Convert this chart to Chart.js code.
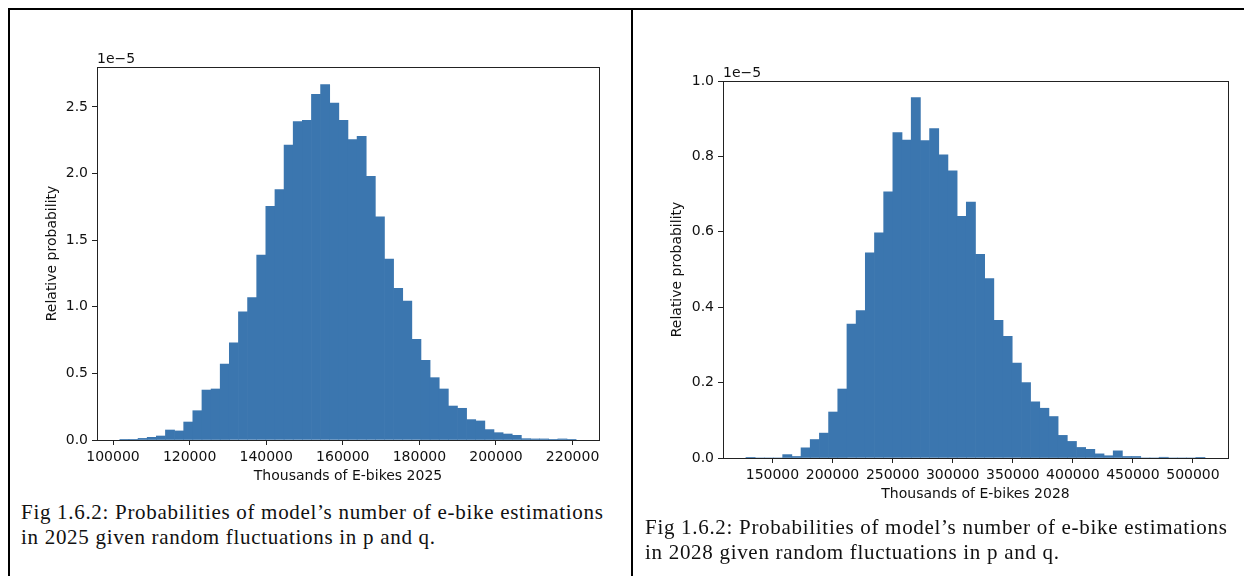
<!DOCTYPE html>
<html>
<head>
<meta charset="utf-8">
<script src="https://cdn.jsdelivr.net/npm/chart.js@4"></script>
<style>
    body { margin: 0; background: #fff; width: 1244px; height: 576px; position: relative; overflow: hidden; }
    .frame { position: absolute; background: #000; }
    canvas { position: absolute; }
    .caption {
        position: absolute;
        font-family: "Liberation Serif", "DejaVu Serif", serif;
        font-size: 21px;
        letter-spacing: 0.7px;
        line-height: 25px;
        color: #111;
        white-space: nowrap;
    }
</style>
</head>
<body>
<div class="frame" style="left:8px; top:8px; width:1236px; height:2px;"></div>
<div class="frame" style="left:8px; top:8px; width:2px; height:568px;"></div>
<div class="frame" style="left:631px; top:8px; width:2px; height:568px;"></div>

<canvas id="chart2025" style="left:0; top:0;"></canvas>
<canvas id="chart2028" style="left:632px; top:0;"></canvas>

<div class="caption" style="left:21px; top:500px;">Fig 1.6.2: Probabilities of model’s number of e-bike estimations<br>in 2025 given random fluctuations in p and q.</div>
<div class="caption" style="left:645px; top:515px;">Fig 1.6.2: Probabilities of model’s number of e-bike estimations<br>in 2028 given random fluctuations in p and q.</div>

<script>
// Histogram data (50 equal bins each), heights in units of 1e-5
const binStart2025 = 101775;
const binWidth2025 = 2383;
const density2025 = [
    0.002, 0.002, 0.012, 0.020, 0.030, 0.075, 0.068, 0.135, 0.220, 0.375,
    0.383, 0.570, 0.730, 0.963, 1.070, 1.388, 1.755, 1.880, 2.213, 2.390,
    2.400, 2.595, 2.668, 2.530, 2.400, 2.255, 2.280, 1.980, 1.675, 1.358,
    1.138, 1.043, 0.755, 0.598, 0.468, 0.383, 0.255, 0.238, 0.153, 0.143,
    0.078, 0.055, 0.045, 0.035, 0.010, 0.008, 0.008, 0.005, 0.008, 0.002
];
const xTicks2025 = [100000, 120000, 140000, 160000, 180000, 200000, 220000];
const yTicks2025 = [0.0, 0.5, 1.0, 1.5, 2.0, 2.5];

const binStart2028 = 127939;
const binWidth2028 = 7642;
const density2028 = [
    0.0003, 0.000, 0.000, 0.000, 0.009, 0.004, 0.027, 0.049, 0.066, 0.122,
    0.183, 0.355, 0.391, 0.544, 0.597, 0.706, 0.863, 0.843, 0.956, 0.842,
    0.874, 0.804, 0.762, 0.641, 0.679, 0.540, 0.476, 0.365, 0.323, 0.252,
    0.200, 0.149, 0.132, 0.110, 0.060, 0.044, 0.028, 0.023, 0.011, 0.006,
    0.019, 0.004, 0.004, 0.000, 0.000, 0.002, 0.000, 0.000, 0.000, 0.0003
];
const xTicks2028 = [150000, 200000, 250000, 300000, 350000, 400000, 450000, 500000];
const yTicks2028 = [0.0, 0.2, 0.4, 0.6, 0.8, 1.0];

const barColor = '#3b76af';
const axisColor = '#222';
const tickFont = { family: 'DejaVu Sans', size: 14 };

// draws the top/right spines and the "1e-5" offset label
const spinesPlugin = {
    id: 'spines',
    afterDraw(chart) {
        const { ctx, chartArea: a } = chart;
        ctx.save();
        ctx.strokeStyle = axisColor;
        ctx.lineWidth = 1;
        ctx.strokeRect(Math.round(a.left) + 0.5, Math.round(a.top) + 0.5,
                       Math.round(a.right - a.left), Math.round(a.bottom - a.top));
        ctx.fillStyle = '#111';
        ctx.font = '14px "DejaVu Sans"';
        ctx.textBaseline = 'bottom';
        ctx.fillText('1e\u22125', a.left, a.top - 1);
        ctx.restore();
    }
};

function makeHistogram(id, cfg) {
    const canvas = document.getElementById(id);
    canvas.width = cfg.width;
    canvas.height = cfg.height;
    canvas.style.width = cfg.width + 'px';
    canvas.style.height = cfg.height + 'px';

    const points = cfg.values.map((v, i) => ({ x: cfg.binStart + (i + 0.5) * cfg.binWidth, y: v }));

    return new Chart(canvas, {
        type: 'bar',
        data: {
            datasets: [{
                data: points,
                backgroundColor: barColor,
                borderWidth: 0,
                barPercentage: 1.0,
                categoryPercentage: 1.0
            }]
        },
        plugins: [spinesPlugin],
        options: {
            responsive: false,
            animation: false,
            layout: { padding: cfg.padding },
            plugins: { legend: { display: false }, tooltip: { enabled: false } },
            scales: {
                x: {
                    type: 'linear',
                    offset: false,
                    min: cfg.xMin,
                    max: cfg.xMax,
                    afterBuildTicks: s => { s.ticks = cfg.xTicks.map(v => ({ value: v })); },
                    afterFit: s => { s.height = cfg.xAxisHeight; },
                    grid: { drawOnChartArea: false, drawTicks: true, tickLength: 5, tickColor: axisColor, offset: false },
                    border: { display: true, color: axisColor, width: 1 },
                    ticks: { color: '#111', font: tickFont, padding: 4, maxRotation: 0, autoSkip: false, callback: v => String(v) },
                    title: { display: true, text: cfg.xTitle, color: '#111', font: tickFont, padding: { top: 0, bottom: cfg.xTitlePad } }
                },
                y: {
                    min: 0,
                    max: cfg.yMax,
                    afterBuildTicks: s => { s.ticks = cfg.yTicks.map(v => ({ value: v })); },
                    afterFit: s => { s.width = cfg.yAxisWidth; },
                    grid: { drawOnChartArea: false, drawTicks: true, tickLength: 5, tickColor: axisColor },
                    border: { display: true, color: axisColor, width: 1 },
                    ticks: { color: '#111', font: tickFont, padding: 4, callback: v => v.toFixed(1) },
                    title: { display: true, text: 'Relative probability', color: '#111', font: tickFont, padding: { top: cfg.yTitlePad, bottom: 0 } }
                }
            }
        }
    });
}

makeHistogram('chart2025', {
    width: 632, height: 500,
    padding: { left: 0, top: 67, right: 33, bottom: 0 },
    yAxisWidth: 97, xAxisHeight: 60,
    values: density2025, binStart: binStart2025, binWidth: binWidth2025,
    xMin: 95817, xMax: 226902, yMax: 2.8,
    xTicks: xTicks2025, yTicks: yTicks2025,
    xTitle: 'Thousands of E-bikes 2025', xTitlePad: 15.5, yTitlePad: 43.5
});

makeHistogram('chart2028', {
    width: 612, height: 520,
    padding: { left: 0, top: 81, right: 16, bottom: 0 },
    yAxisWidth: 91, xAxisHeight: 62,
    values: density2028, binStart: binStart2028, binWidth: binWidth2028,
    xMin: 108833, xMax: 529167, yMax: 1.0,
    xTicks: xTicks2028, yTicks: yTicks2028,
    xTitle: 'Thousands of E-bikes 2028', xTitlePad: 17.5, yTitlePad: 36.5
});
</script>
</body>
</html>
